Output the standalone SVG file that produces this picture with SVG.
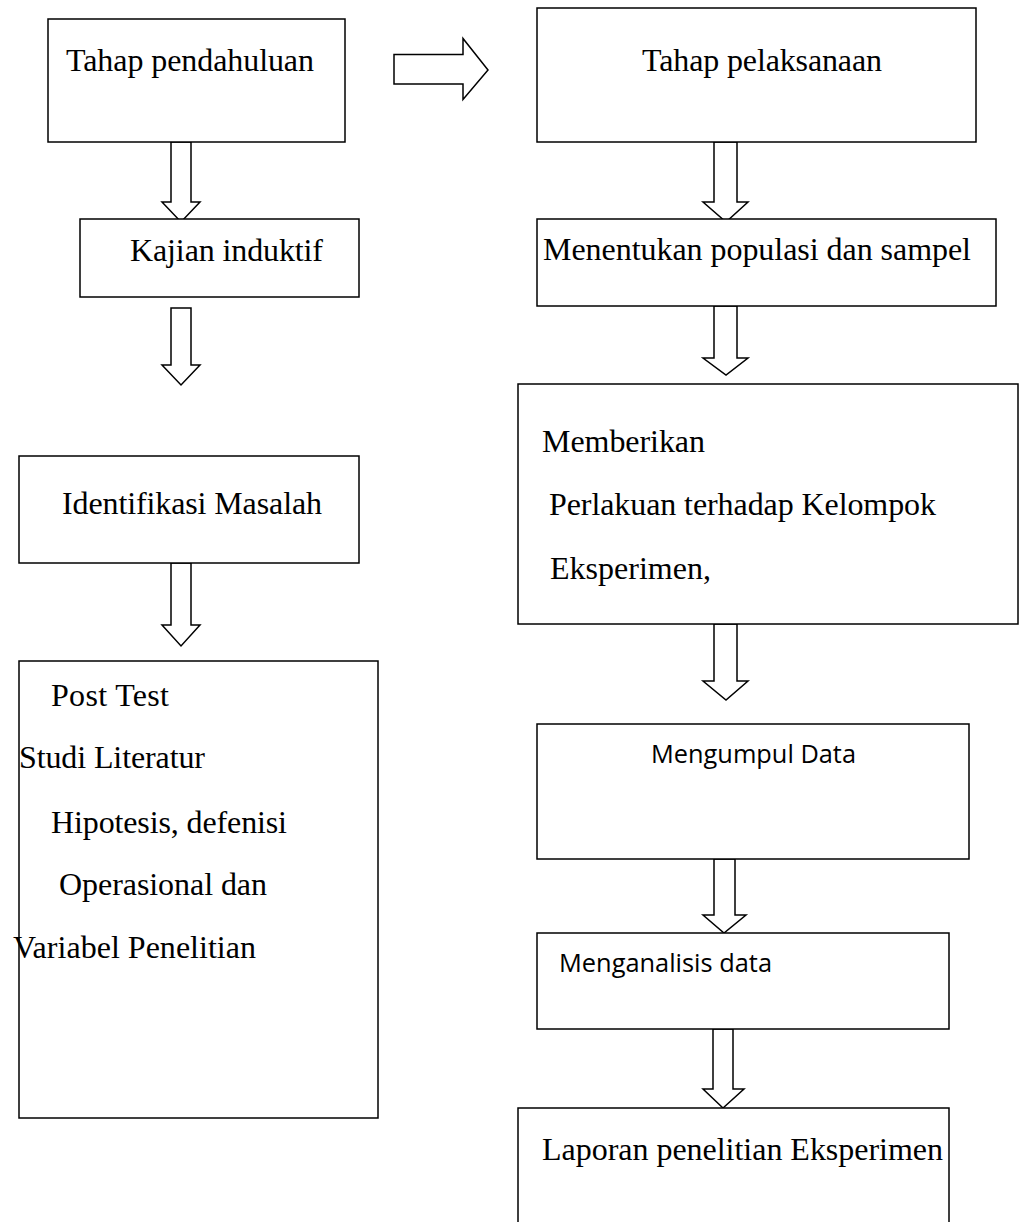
<svg xmlns="http://www.w3.org/2000/svg" width="1019" height="1222" viewBox="0 0 1019 1222">
<style>
.box{fill:#fff;stroke:#000;stroke-width:1.5}
.arr{fill:#fff;stroke:#000;stroke-width:1.5;stroke-linejoin:miter}
.serif{font-family:"Liberation Serif","Times New Roman",serif;font-size:32px;fill:#000}
.sans{font-family:"Open Sans","Liberation Sans",sans-serif;font-size:26px;fill:#000}
</style>
<rect width="1019" height="1222" fill="#fff"/>
<g id="connectors">
<path class="arr" d="M394 54.5 L463 54.5 L463 38.5 L488 70 L463 99.5 L463 84 L394 84 Z"/>
<path class="arr" d="M171 142 L191 142 L191 202 L200 202 L181 222 L162 202 L171 202 Z"/>
<path class="arr" d="M171 308 L191 308 L191 365 L200 365 L181 385 L162 365 L171 365 Z"/>
<path class="arr" d="M171 563 L191 563 L191 625 L200 625 L181 646 L162 625 L171 625 Z"/>
<path class="arr" d="M714 142 L737 142 L737 202 L748 202 L726 222 L703 202 L714 202 Z"/>
<path class="arr" d="M714 306 L737 306 L737 358 L748 358 L726 375 L703 358 L714 358 Z"/>
<path class="arr" d="M714 624 L737 624 L737 681 L748 681 L726 700 L703 681 L714 681 Z"/>
<path class="arr" d="M714 859 L735 859 L735 915 L746 915 L724 933 L703 915 L714 915 Z"/>
<path class="arr" d="M713 1029 L733 1029 L733 1089 L744 1089 L723 1108 L703 1089 L713 1089 Z"/>
</g>
<g id="n1"><rect class="box" x="48" y="19" width="297" height="123"/><text class="serif" x="66" y="71" textLength="248">Tahap pendahuluan</text></g>
<g id="n2"><rect class="box" x="80" y="219" width="279" height="78"/><text class="serif" x="130" y="261" textLength="193">Kajian induktif</text></g>
<g id="n3"><rect class="box" x="19" y="456" width="340" height="107"/><text class="serif" x="62" y="514" textLength="260">Identifikasi Masalah</text></g>
<g id="n4"><rect class="box" x="19" y="661" width="359" height="457"/>
<text class="serif" x="51" y="706" textLength="118">Post Test</text>
<text class="serif" x="19" y="768" textLength="186">Studi Literatur</text>
<text class="serif" x="51" y="833" textLength="236">Hipotesis, defenisi</text>
<text class="serif" x="59" y="895" textLength="208">Operasional dan</text>
<text class="serif" x="13" y="958" textLength="243">Variabel Penelitian</text>
</g>
<g id="n5"><rect class="box" x="537" y="8" width="439" height="134"/><text class="serif" x="642" y="71" textLength="240">Tahap pelaksanaan</text></g>
<g id="n6"><rect class="box" x="537" y="219" width="459" height="87"/><text class="serif" x="543" y="260" textLength="428">Menentukan populasi dan sampel</text></g>
<g id="n7"><rect class="box" x="518" y="384" width="500" height="240"/>
<text class="serif" x="542" y="452" textLength="163">Memberikan</text>
<text class="serif" x="549" y="515" textLength="387">Perlakuan terhadap Kelompok</text>
<text class="serif" x="550" y="579" textLength="161">Eksperimen,</text>
</g>
<g id="n8"><rect class="box" x="537" y="724" width="432" height="135"/><text class="sans" x="651" y="763" textLength="205" lengthAdjust="spacingAndGlyphs">Mengumpul Data</text></g>
<g id="n9"><rect class="box" x="537" y="933" width="412" height="96"/><text class="sans" x="559" y="972" textLength="213" lengthAdjust="spacingAndGlyphs">Menganalisis data</text></g>
<g id="n10"><rect class="box" x="518" y="1108" width="431" height="130"/><text class="serif" x="542" y="1160" textLength="401">Laporan penelitian Eksperimen</text></g>
</svg>
